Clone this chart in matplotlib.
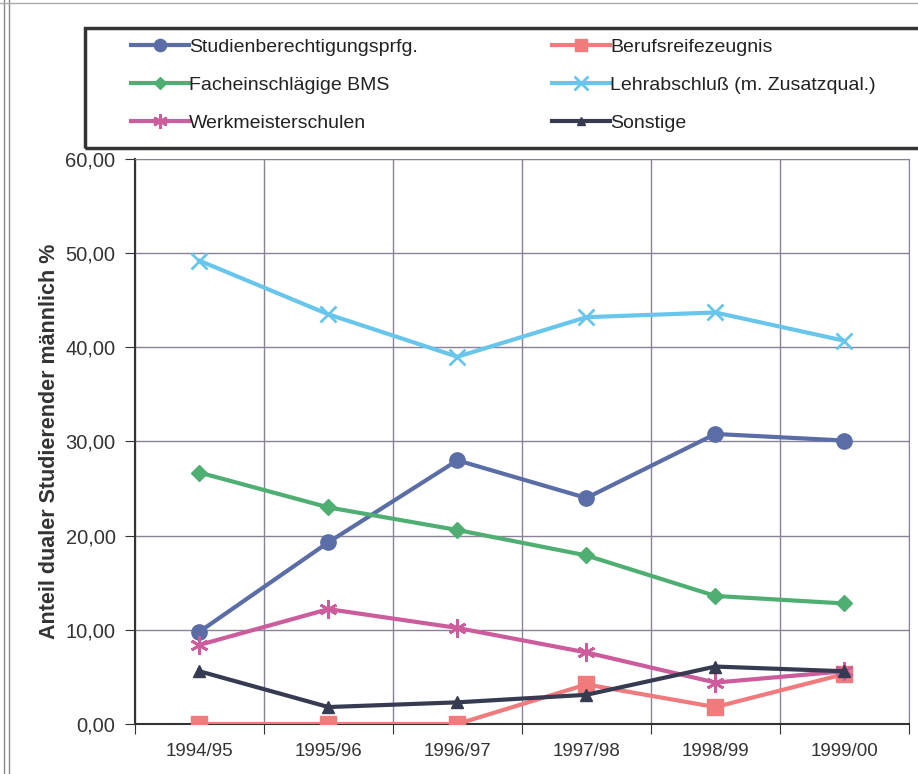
import matplotlib
matplotlib.use("Agg")
import matplotlib.pyplot as plt
from matplotlib.lines import Line2D
from matplotlib.patches import Rectangle
from matplotlib.ticker import FuncFormatter

plt.rcParams["font.family"] = ["Liberation Sans", "DejaVu Sans"]

years = ["1994/95", "1995/96", "1996/97", "1997/98", "1998/99", "1999/00"]
studien = [9.8, 19.3, 28.0, 24.0, 30.8, 30.1]
berufsreife = [0.0, 0.0, 0.0, 4.2, 1.8, 5.3]
fach_bms = [26.7, 23.0, 20.6, 17.9, 13.6, 12.8]
lehr = [49.2, 43.5, 39.0, 43.2, 43.7, 40.7]
werkmeister = [8.4, 12.2, 10.2, 7.6, 4.4, 5.6]
sonstige = [5.6, 1.8, 2.3, 3.1, 6.1, 5.6]

series = [
    ("Studienberechtigungsprfg.", studien, "#5a6da6", "o", 11, 1),
    ("Berufsreifezeugnis", berufsreife, "#f07a7c", "s", 11, 1),
    ("Facheinschlägige BMS", fach_bms, "#4fae72", "D", 8, 1),
    ("Lehrabschluß (m. Zusatzqual.)", lehr, "#68c6ec", "x", 12, 2),
    ("Werkmeisterschulen", werkmeister, "#cc5c9c", (6, 2, 0), 13, 2),
    ("Sonstige", sonstige, "#363b52", "^", 8, 1),
]

fig = plt.figure(figsize=(9.18, 7.74), dpi=100)
ax = fig.add_axes([0.147, 0.0646, 0.843, 0.730])

x = list(range(len(years)))
handles = []
for name, vals, col, mk, ms, mew in series:
    ax.plot(x, vals, color=col, lw=3, marker=mk, ms=ms, mec=col, mfc=col,
            mew=mew, zorder=3)
    handles.append(Line2D([], [], color=col, lw=3, marker=mk, ms=ms * 0.8,
                          mec=col, mfc=col, mew=mew, label=name))

ax.set_xlim(-0.5, len(years) - 0.5)
ax.set_ylim(0, 60)
ax.set_yticks(range(0, 61, 10))
ax.yaxis.set_major_formatter(FuncFormatter(lambda v, p: f"{v:.2f}".replace(".", ",")))
ax.set_xticks([i - 0.5 for i in range(len(years) + 1)])
ax.set_xticklabels([])
ax.set_xticks(x, minor=True)
ax.set_xticklabels(years, minor=True)
ax.tick_params(axis="x", which="minor", length=0, pad=14, labelsize=13.5, colors="#333333")
ax.tick_params(axis="x", which="major", length=7, color="#333333")
ax.tick_params(axis="y", length=7, labelsize=14.5, colors="#333333", pad=7)

ax.grid(True, which="major", color="#8a8098", lw=1)
ax.set_axisbelow(True)
for s in ["top", "right"]:
    ax.spines[s].set_color("#8a8098")
for s in ["left", "bottom"]:
    ax.spines[s].set_color("#333333")
    ax.spines[s].set_linewidth(1.5)

ax.set_ylabel("Anteil dualer Studierender männlich %", fontsize=15.5,
              fontweight="bold", color="#333333", labelpad=4)

# legend: frame box plus two columns (row order as in the reference)
W, H = 918, 774
fig.add_artist(Rectangle((85 / W, 1 - 148 / H), 840 / W, 120 / H,
                         transform=fig.transFigure, fill=False,
                         edgecolor="#333333", lw=2.5))
cols = [([handles[0], handles[2], handles[4]], 131),
        ([handles[1], handles[3], handles[5]], 552)]
for hs, xpix in cols:
    leg = fig.legend(handles=hs, loc="upper left",
                     bbox_to_anchor=(xpix / W, 1 - 38 / H),
                     fontsize=14, frameon=False, handlelength=3.0,
                     handletextpad=0.0, labelspacing=1.06,
                     borderaxespad=0, borderpad=0)
    for t in leg.get_texts():
        t.set_color("#222222")

# outer frame lines on the left and top
fig.add_artist(Line2D([0.004, 0.004], [0, 1], color="#888888", lw=1))
fig.add_artist(Line2D([0.010, 0.010], [0, 1], color="#888888", lw=1))
fig.add_artist(Line2D([0, 1], [0.996, 0.996], color="#aaaaaa", lw=1))

fig.savefig("out.png", dpi=100)
